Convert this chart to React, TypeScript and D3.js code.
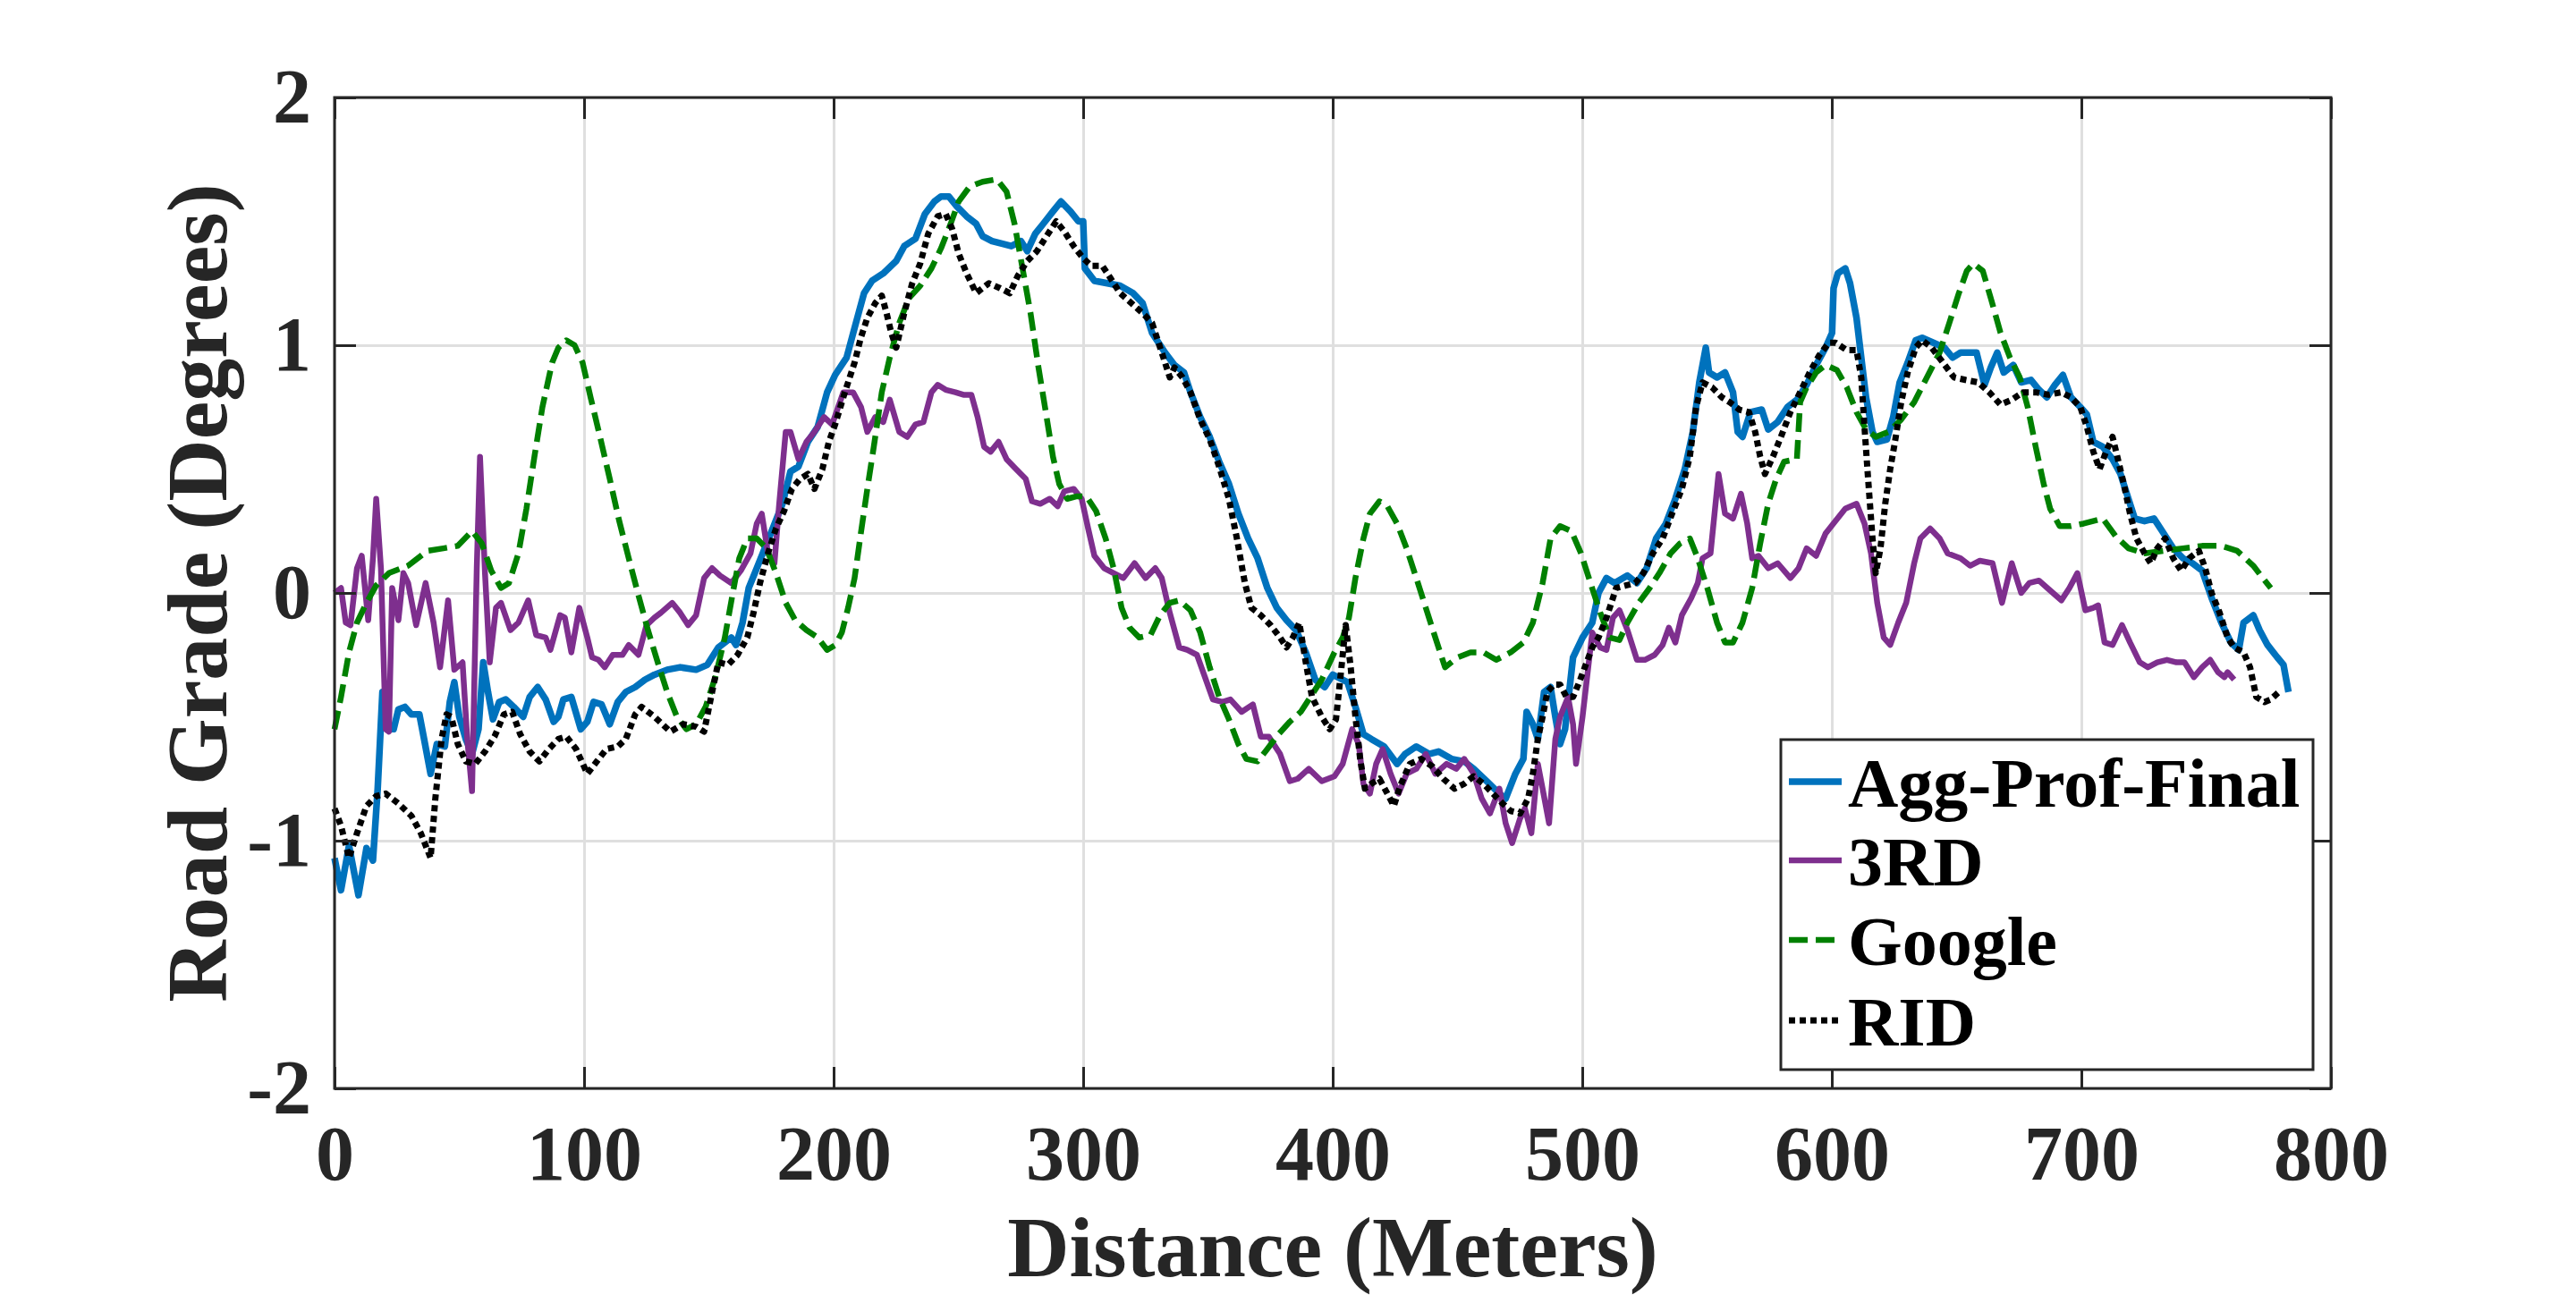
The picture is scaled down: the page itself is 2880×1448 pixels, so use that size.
import * as d3 from 'd3'
import { useEffect, useRef } from 'react'

type Pt = [number, number]

// distance (m), road grade (deg)
const xTicks = [0, 100, 200, 300, 400, 500, 600, 700, 800]
const yTicks = [-2, -1, 0, 1, 2]

const aggProfFinal: Pt[] = [
  [0, -1.07], [2.6, -1.2], [5.8, -1.02], [9.6, -1.22], [12.8, -1.03], [15.4, -1.08], [17.3, -0.79],
  [19.2, -0.4], [21.2, -0.55], [23.7, -0.55], [25.6, -0.47], [28.2, -0.46], [30.8, -0.49], [34, -0.49],
  [35.9, -0.59], [38.5, -0.73], [41, -0.61], [44.2, -0.62], [46.2, -0.44], [48, -0.36], [50, -0.5],
  [52.6, -0.59], [55.1, -0.65], [57.7, -0.55], [59.6, -0.28], [61.5, -0.4], [63.5, -0.51], [66, -0.44],
  [68.6, -0.43], [71.8, -0.46], [75.6, -0.5], [78.2, -0.42], [81.4, -0.38], [84.6, -0.43], [87.8, -0.52],
  [89.7, -0.5], [91.7, -0.43], [94.9, -0.42], [98.7, -0.55], [101.3, -0.52], [103.8, -0.44], [107, -0.45],
  [110.3, -0.53], [113.5, -0.44], [116.7, -0.4], [120.5, -0.38], [124.4, -0.35], [128.2, -0.33],
  [133.3, -0.31], [138.5, -0.3], [144.9, -0.31], [149.4, -0.29], [153.8, -0.22], [159, -0.18],
  [160.9, -0.21], [163.5, -0.12], [166, 0.02], [169.2, 0.1], [172.4, 0.18], [175.6, 0.26], [179.5, 0.36],
  [182.7, 0.49], [185.9, 0.51], [189.7, 0.61], [193.6, 0.67], [197.4, 0.81], [200.6, 0.88], [205.2, 0.95],
  [208.4, 1.07], [212.2, 1.21], [215.4, 1.26], [219.9, 1.29], [225.1, 1.34], [228.3, 1.4], [232.8, 1.43],
  [236.6, 1.53], [240.4, 1.58], [243, 1.6], [246.2, 1.6], [249.4, 1.56], [253.3, 1.52], [257.1, 1.49],
  [259.7, 1.44], [263.5, 1.42], [267.4, 1.41], [271.2, 1.4], [275.1, 1.42], [277.6, 1.38], [280.8, 1.45],
  [284, 1.49], [287.9, 1.54], [291.1, 1.58], [294.9, 1.54], [298.1, 1.5], [300, 1.5], [300.7, 1.31],
  [304.5, 1.26], [309.7, 1.25], [314.8, 1.24], [320, 1.21], [323.8, 1.17], [327.6, 1.05], [332.8, 0.97],
  [336.6, 0.92], [340.4, 0.89], [343, 0.81], [346.9, 0.71], [350.7, 0.63], [354.5, 0.53], [358.4, 0.44],
  [362.2, 0.32], [366.1, 0.22], [369.9, 0.14], [373.8, 0.02], [377.6, -0.06], [381.5, -0.11],
  [385.3, -0.15], [389.2, -0.24], [393, -0.35], [396.8, -0.38], [400, -0.33], [402, -0.34], [405.9, -0.36],
  [409.1, -0.46], [412.3, -0.57], [415.5, -0.59], [420.6, -0.62], [425.8, -0.69], [429, -0.65],
  [433.5, -0.62], [438.6, -0.65], [442.4, -0.64], [447.6, -0.67], [452.7, -0.68], [456.5, -0.71],
  [461.7, -0.76], [466.8, -0.81], [469.3, -0.83], [473.2, -0.73], [476.4, -0.67], [477.7, -0.48],
  [480.2, -0.53], [482.2, -0.59], [484.7, -0.4], [487.3, -0.38], [489.2, -0.5], [491.1, -0.61],
  [493.1, -0.55], [496.3, -0.26], [500.1, -0.18], [504, -0.12], [506.5, 0], [509.7, 0.06], [512.9, 0.04],
  [518.1, 0.07], [521.9, 0.04], [525.8, 0.1], [529.6, 0.22], [533.5, 0.28], [537.3, 0.38], [541.1, 0.5],
  [544.3, 0.65], [546.9, 0.85], [549.5, 0.99], [550.8, 0.89], [554, 0.87], [557.2, 0.89], [560.4, 0.81],
  [562.3, 0.65], [564.2, 0.63], [567.4, 0.73], [571.9, 0.74], [574.5, 0.66], [578.3, 0.69], [582.2, 0.75],
  [586, 0.78], [589.9, 0.84], [593.7, 0.92], [597.5, 0.99], [600.1, 1.05], [600.7, 1.23], [602.4, 1.29],
  [605.4, 1.31], [607.3, 1.25], [609.9, 1.11], [611.8, 0.95], [613.7, 0.79], [616.3, 0.65], [618.2, 0.61],
  [622.1, 0.62], [624.6, 0.71], [627.2, 0.85], [630.4, 0.93], [633.6, 1.02], [636.2, 1.03], [640.7, 1.01],
  [645.1, 0.99], [648.4, 0.95], [651.6, 0.97], [654.8, 0.97], [658, 0.97], [661.2, 0.84], [663.7, 0.91],
  [666.3, 0.97], [668.9, 0.89], [672.7, 0.92], [675.9, 0.85], [679.8, 0.86], [683, 0.82], [686.2, 0.79],
  [689.4, 0.84], [692.6, 0.88], [695.8, 0.79], [699.6, 0.75], [702.2, 0.72], [704.8, 0.61], [708.6, 0.59],
  [712.5, 0.54], [715.7, 0.48], [718.2, 0.4], [721.4, 0.3], [725.3, 0.29], [729.1, 0.3], [733, 0.24],
  [736.8, 0.18], [740.7, 0.14], [744.5, 0.12], [748.4, 0.09], [752.2, -0.02], [756.1, -0.12],
  [759.9, -0.2], [763.1, -0.23], [765, -0.12], [768.9, -0.09], [771.4, -0.15], [774.6, -0.21],
  [778.5, -0.26], [781, -0.29], [783, -0.4],
]

const thirdRD: Pt[] = [
  [0, 0], [2.6, 0.02], [4.5, -0.12], [6.4, -0.13], [9, 0.1], [10.9, 0.15], [13.5, -0.11], [15.4, 0.14],
  [16.7, 0.38], [18.6, 0.1], [20.5, -0.55], [21.8, -0.56], [23.1, 0.02], [25.6, -0.11], [27.6, 0.08],
  [29.5, 0.04], [32.7, -0.13], [36.5, 0.04], [39.7, -0.12], [42.3, -0.3], [45.5, -0.03], [48, -0.31],
  [51.3, -0.28], [53.2, -0.59], [55.1, -0.8], [57, 0.1], [58.3, 0.55], [60.3, 0.08], [62.2, -0.28],
  [64.7, -0.06], [66.7, -0.04], [70.5, -0.15], [73.7, -0.12], [77.6, -0.03], [80.8, -0.17], [84.6, -0.18],
  [86.5, -0.23], [90.4, -0.09], [92.3, -0.1], [94.9, -0.24], [98.1, -0.06], [101.3, -0.18], [103.2, -0.26],
  [105.8, -0.27], [108.3, -0.3], [111.5, -0.25], [115.4, -0.25], [117.9, -0.21], [121.8, -0.25],
  [125, -0.13], [128.2, -0.1], [130.8, -0.08], [135.3, -0.04], [138.5, -0.08], [141.7, -0.13],
  [144.9, -0.09], [148.1, 0.06], [151.3, 0.1], [154.5, 0.07], [159, 0.04], [162.8, 0.09], [166.7, 0.16],
  [169.2, 0.28], [171.2, 0.32], [173.7, 0.16], [176.3, 0.12], [178.2, 0.36], [180.8, 0.65], [182.7, 0.65],
  [185.9, 0.54], [189.1, 0.61], [192.3, 0.65], [196.2, 0.71], [199.4, 0.68], [203.9, 0.81], [207.8, 0.81],
  [211, 0.75], [213.5, 0.65], [216.7, 0.71], [219.9, 0.69], [222.5, 0.78], [226.3, 0.65], [229.5, 0.63],
  [232.8, 0.68], [236, 0.69], [239.2, 0.81], [241.7, 0.84], [244.9, 0.82], [248.8, 0.81], [252, 0.8],
  [255.2, 0.8], [257.7, 0.71], [260.3, 0.59], [262.9, 0.57], [266.1, 0.61], [269.3, 0.54], [273.1, 0.5],
  [277, 0.46], [279.5, 0.37], [282.8, 0.36], [286.6, 0.38], [289.8, 0.35], [292.4, 0.41], [296.2, 0.42],
  [299.4, 0.38], [302, 0.26], [304.5, 0.15], [308.4, 0.1], [312.2, 0.08], [316.1, 0.06], [320.6, 0.12],
  [325, 0.06], [328.9, 0.1], [331.5, 0.06], [334.7, -0.08], [338.5, -0.22], [341.7, -0.23], [345.6, -0.25],
  [348.8, -0.34], [352, -0.43], [355.8, -0.44], [359, -0.43], [363.5, -0.48], [368, -0.45], [371.2, -0.58],
  [374.4, -0.58], [378.9, -0.65], [382.8, -0.76], [386, -0.75], [390.4, -0.71], [395.6, -0.76],
  [400.7, -0.74], [404, -0.69], [407.8, -0.55], [410.4, -0.61], [412.3, -0.77], [414.9, -0.81],
  [417.4, -0.69], [420, -0.63], [423.2, -0.73], [426.4, -0.81], [429.6, -0.73], [433.5, -0.71],
  [437.3, -0.65], [441.1, -0.73], [445.6, -0.69], [449.5, -0.71], [452.7, -0.67], [456.5, -0.73],
  [459.7, -0.83], [463, -0.89], [466.8, -0.79], [469.3, -0.93], [471.9, -1.01], [475.1, -0.91],
  [477, -0.87], [479.6, -0.97], [482.2, -0.69], [484.1, -0.79], [486.7, -0.93], [489.2, -0.59],
  [491.1, -0.5], [494.3, -0.42], [496.3, -0.53], [497.5, -0.69], [500.1, -0.5], [504, -0.16],
  [507.2, -0.22], [509.7, -0.23], [512.3, -0.1], [514.9, -0.07], [518.1, -0.15], [521.9, -0.27],
  [525.1, -0.27], [529, -0.25], [532.2, -0.21], [534.7, -0.14], [537.3, -0.2], [539.9, -0.09],
  [543.7, -0.02], [546.3, 0.04], [548.2, 0.14], [551.4, 0.16], [554.6, 0.48], [557.2, 0.32], [560.4, 0.3],
  [563.6, 0.4], [566.1, 0.28], [568.1, 0.14], [570.6, 0.15], [574.5, 0.1], [578.3, 0.12], [583.4, 0.06],
  [586.7, 0.1], [589.9, 0.18], [593.7, 0.15], [597.5, 0.24], [601.4, 0.29], [605.4, 0.34], [609.9, 0.36],
  [613.1, 0.28], [615.7, 0.16], [618.2, -0.04], [620.8, -0.18], [623.4, -0.21], [626.6, -0.12],
  [629.8, -0.04], [633, 0.12], [635.5, 0.22], [639.4, 0.26], [643.2, 0.22], [646.4, 0.16], [651.6, 0.14],
  [655.4, 0.11], [659.3, 0.13], [664.4, 0.12], [668.2, -0.04], [672.1, 0.12], [675.9, 0], [679.1, 0.04],
  [683, 0.05], [687.5, 0.01], [692, -0.03], [695.2, 0.02], [698.4, 0.08], [701.6, -0.07], [704.8, -0.06],
  [706.7, -0.05], [709.3, -0.2], [712.5, -0.21], [716.3, -0.13], [719.5, -0.2], [723.4, -0.28],
  [726.6, -0.3], [730.4, -0.28], [734.3, -0.27], [738.1, -0.28], [741.3, -0.28], [745.1, -0.34],
  [748.4, -0.3], [751.6, -0.27], [754.8, -0.32], [757.3, -0.34], [758.6, -0.32], [761.2, -0.35],
]

const google: Pt[] = [
  [0, -0.55], [2.6, -0.42], [5.8, -0.24], [9, -0.12], [12.8, -0.04], [16.7, 0.03], [21.8, 0.08],
  [29.5, 0.11], [37.2, 0.17], [43.6, 0.18], [49.4, 0.19], [55.1, 0.25], [59, 0.2], [62.8, 0.09],
  [66.7, 0.02], [69.9, 0.04], [73.7, 0.16], [76.9, 0.34], [80.1, 0.55], [83.3, 0.75], [87.2, 0.93],
  [89.7, 0.99], [92.9, 1.02], [96.2, 1], [99.4, 0.93], [102.6, 0.79], [106.4, 0.63], [110.3, 0.46],
  [114.1, 0.29], [117.9, 0.14], [121.8, -0.01], [125.6, -0.15], [129.5, -0.28], [133.3, -0.4],
  [137.2, -0.5], [141, -0.55], [144.9, -0.53], [148.7, -0.46], [152.6, -0.34], [156.4, -0.18], [159.6, 0],
  [162.2, 0.14], [165.4, 0.22], [169.2, 0.22], [173.1, 0.18], [176.9, 0.08], [180.8, -0.04],
  [184.6, -0.11], [189.1, -0.15], [193.6, -0.18], [197.4, -0.23], [200.7, -0.21], [203.3, -0.16],
  [205.8, -0.06], [208.4, 0.06], [210.9, 0.24], [213.5, 0.42], [216.1, 0.59], [219.3, 0.81], [222.5, 0.95],
  [226.3, 1.09], [230.2, 1.19], [234.7, 1.24], [239.2, 1.31], [243, 1.39], [246.9, 1.49], [250.1, 1.58],
  [254.5, 1.64], [259.7, 1.66], [265.4, 1.67], [269.3, 1.62], [272.5, 1.49], [275.7, 1.31], [278.9, 1.13],
  [282.1, 0.91], [284.7, 0.75], [287.9, 0.55], [290.4, 0.44], [293.6, 0.38], [297.5, 0.39], [301.3, 0.39],
  [305.2, 0.33], [309, 0.22], [312.2, 0.1], [315.4, -0.06], [318.6, -0.14], [322.5, -0.18], [327, -0.17],
  [330.8, -0.09], [334.7, -0.04], [338.5, -0.03], [343, -0.07], [346.9, -0.16], [350.7, -0.3],
  [354.5, -0.42], [358.4, -0.51], [362.2, -0.61], [365.4, -0.67], [369.9, -0.68], [373.8, -0.63],
  [378.3, -0.57], [382.8, -0.52], [387.2, -0.48], [391.7, -0.41], [395.6, -0.35], [400.7, -0.24],
  [404, -0.18], [406.5, -0.1], [409.1, 0.06], [412.3, 0.22], [414.9, 0.32], [418.7, 0.37], [421.9, 0.35],
  [425.8, 0.28], [429.6, 0.18], [433.5, 0.06], [437.3, -0.06], [441.1, -0.18], [445, -0.3], [450.1, -0.26],
  [455.2, -0.24], [460.4, -0.24], [465.5, -0.27], [471.3, -0.24], [476.4, -0.2], [480.2, -0.12],
  [484.1, 0.04], [487.3, 0.22], [491.1, 0.27], [495.6, 0.25], [499.5, 0.16], [503.3, 0.04], [507.2, -0.08],
  [511, -0.18], [514.9, -0.19], [518.1, -0.12], [522.6, -0.04], [527, 0.02], [530.9, 0.08], [535.4, 0.16],
  [539.2, 0.2], [543.1, 0.22], [546.3, 0.14], [550.1, 0.02], [554, -0.12], [557.2, -0.2], [560.4, -0.2],
  [564.2, -0.12], [568.1, 0.02], [571.3, 0.2], [574.5, 0.36], [577.7, 0.46], [580.9, 0.53], [586, 0.54],
  [587.3, 0.77], [589.9, 0.83], [593.7, 0.89], [597.5, 0.92], [602, 0.9], [606, 0.83], [609.9, 0.73],
  [613.7, 0.66], [617.6, 0.63], [622.7, 0.65], [627.8, 0.7], [633, 0.77], [638.1, 0.87], [643.2, 0.97],
  [647.1, 1.09], [650.9, 1.21], [654.1, 1.3], [656.7, 1.33], [660.5, 1.3], [663.7, 1.19], [667.6, 1.05],
  [671.4, 0.95], [675.3, 0.87], [678.5, 0.75], [681.7, 0.59], [684.9, 0.44], [687.5, 0.34], [691.3, 0.27],
  [695.8, 0.27], [700.9, 0.28], [708.6, 0.3], [713.7, 0.23], [718.9, 0.18], [725.3, 0.16], [733, 0.17],
  [740.7, 0.18], [748.4, 0.19], [756.1, 0.19], [762.4, 0.17], [768.9, 0.11], [772.7, 0.06], [775.9, 0.02],
]

const rid: Pt[] = [
  [0, -0.87], [2.6, -0.94], [5.8, -1.07], [9, -0.97], [12.8, -0.86], [16.7, -0.82], [20.5, -0.81],
  [25.6, -0.85], [30.8, -0.9], [34.6, -0.97], [38.5, -1.07], [40.4, -0.83], [42.9, -0.59], [44.9, -0.49],
  [46.8, -0.5], [49.4, -0.61], [52.6, -0.68], [56.4, -0.69], [60.3, -0.64], [64.1, -0.58], [67.9, -0.49],
  [71.2, -0.48], [74.4, -0.57], [78.2, -0.64], [82.1, -0.68], [85.9, -0.63], [89.7, -0.59], [92.9, -0.58],
  [96.8, -0.63], [101.3, -0.73], [105.1, -0.68], [109, -0.63], [113.5, -0.62], [116.7, -0.59],
  [120.5, -0.49], [123.1, -0.46], [128.2, -0.5], [134.6, -0.56], [139.7, -0.53], [144.9, -0.54],
  [148.1, -0.56], [151.3, -0.4], [153.8, -0.28], [157.7, -0.29], [161.5, -0.25], [165.4, -0.18],
  [167.9, -0.08], [170.5, 0.04], [173.7, 0.16], [176.9, 0.26], [180.1, 0.33], [183.3, 0.42], [186.5, 0.46],
  [189.7, 0.48], [192.3, 0.42], [195.5, 0.5], [198.1, 0.61], [200.6, 0.68], [204.5, 0.81], [208.4, 0.93],
  [210.9, 1.03], [213.5, 1.11], [216.7, 1.17], [219.3, 1.2], [221.2, 1.13], [223.1, 1.05], [225.1, 0.99],
  [228.3, 1.13], [231.5, 1.25], [234.7, 1.33], [237.9, 1.45], [241.7, 1.52], [244.9, 1.53], [247.5, 1.47],
  [250.1, 1.37], [253.3, 1.29], [257.1, 1.21], [262.2, 1.25], [266.7, 1.23], [270.6, 1.21], [273.8, 1.28],
  [277.6, 1.34], [281.5, 1.38], [285.3, 1.44], [289.2, 1.5], [292.4, 1.46], [296.2, 1.4], [300.1, 1.35],
  [303.3, 1.32], [307.7, 1.32], [311, 1.27], [314.8, 1.21], [319.3, 1.17], [323.8, 1.13], [327.6, 1.09],
  [330.2, 1.01], [332.8, 0.93], [334.7, 0.87], [336.6, 0.91], [339.8, 0.87], [343, 0.81], [346.9, 0.7],
  [350.7, 0.62], [354.5, 0.51], [358.4, 0.38], [361.6, 0.22], [364.8, 0.04], [367.4, -0.06],
  [371.2, -0.09], [375.1, -0.13], [378.9, -0.18], [381.5, -0.22], [384, -0.18], [386.6, -0.12],
  [389.2, -0.28], [391.7, -0.42], [395.6, -0.5], [398.8, -0.55], [401.3, -0.51], [403.3, -0.32],
  [405.2, -0.13], [407.2, -0.3], [409.1, -0.5], [411, -0.67], [412.9, -0.79], [415.5, -0.77],
  [418.7, -0.75], [421.9, -0.81], [424.5, -0.86], [427, -0.78], [430.9, -0.69], [435.4, -0.67],
  [439.9, -0.7], [444.3, -0.75], [448.8, -0.79], [452.7, -0.77], [456.5, -0.74], [460.4, -0.77],
  [464.2, -0.81], [468.1, -0.85], [471.3, -0.88], [475.1, -0.89], [478.3, -0.83], [480.2, -0.73],
  [482.2, -0.59], [484.1, -0.5], [486, -0.4], [488.6, -0.37], [491.1, -0.37], [493.7, -0.42],
  [496.3, -0.42], [498.8, -0.36], [501.4, -0.29], [504, -0.22], [506.5, -0.18], [509.7, -0.1],
  [513.6, 0.02], [517.4, 0.03], [521.3, 0.04], [524.5, 0.08], [528.3, 0.16], [532.2, 0.22], [536, 0.32],
  [539.9, 0.42], [543.1, 0.55], [545.6, 0.75], [548.2, 0.85], [552, 0.83], [555.9, 0.79], [559.1, 0.77],
  [562.9, 0.74], [566.8, 0.73], [569.3, 0.65], [571.3, 0.55], [573.2, 0.48], [576.4, 0.55], [579.6, 0.63],
  [583.4, 0.73], [587.3, 0.81], [591.1, 0.89], [595, 0.96], [598.8, 1.01], [601.5, 1.01], [606, 0.98],
  [609.9, 0.98], [611.8, 0.87], [613.1, 0.67], [614.4, 0.48], [616.3, 0.22], [617.6, 0.08], [619.5, 0.18],
  [621.4, 0.36], [623.4, 0.5], [625.3, 0.61], [627.8, 0.77], [630.4, 0.89], [633.6, 0.99], [636.2, 1.02],
  [640, 0.99], [644.5, 0.93], [649, 0.87], [653.5, 0.86], [658.6, 0.85], [663.1, 0.81], [667.6, 0.76],
  [672.1, 0.78], [676.6, 0.81], [681.7, 0.81], [686.8, 0.8], [691.9, 0.81], [695.8, 0.79], [699.6, 0.75],
  [702.2, 0.67], [704.8, 0.57], [707.3, 0.5], [709.9, 0.57], [712.5, 0.63], [714.4, 0.55], [717, 0.44],
  [719.5, 0.32], [722.1, 0.22], [725.3, 0.16], [727.8, 0.12], [730.4, 0.18], [733.6, 0.22], [736.8, 0.14],
  [740, 0.09], [743.2, 0.14], [747.1, 0.17], [749.6, 0.1], [752.2, 0], [755.4, -0.08], [758.6, -0.18],
  [761.2, -0.22], [765, -0.24], [767.6, -0.3], [770.1, -0.42], [773.4, -0.44], [775.9, -0.43],
  [779.1, -0.4],
]

const seriesNames = ['Agg-Prof-Final', '3RD', 'Google', 'RID']
const seriesData = [aggProfFinal, thirdRD, google, rid]
const seriesColors = ['#0072BD', '#7E2F8E', '#008000', '#000000']
const seriesDash = ['none', 'none', '21 9', '7 5']
const seriesWidth = [7.5, 6.5, 6.5, 7]

const W = 2880
const H = 1448
const margin = { top: 109, right: 274, bottom: 231, left: 374 }
const innerW = W - margin.left - margin.right
const innerH = H - margin.top - margin.bottom
const font = "'Liberation Serif', 'Times New Roman', serif"
const axisColor = '#262626'

export default function App() {
  const gridRef = useRef<SVGGElement>(null)
  const axesRef = useRef<SVGGElement>(null)

  const x = d3.scaleLinear().domain([0, 800]).range([0, innerW])
  const y = d3.scaleLinear().domain([-2, 2]).range([innerH, 0])

  const line = d3
    .line<Pt>()
    .x((d) => x(d[0]))
    .y((d) => y(d[1]))
    .curve(d3.curveLinear)

  useEffect(() => {
    if (gridRef.current) {
      const g = d3.select(gridRef.current)
      g.selectAll('*').remove()
      g.append('g')
        .attr('transform', `translate(0, ${innerH})`)
        .call(d3.axisBottom(x).tickValues(xTicks).tickSize(-innerH).tickFormat(() => ''))
      g.append('g')
        .call(d3.axisLeft(y).tickValues(yTicks).tickSize(-innerW).tickFormat(() => ''))
      g.selectAll('.domain').remove()
      g.selectAll('line').attr('stroke', '#dfdfdf').attr('stroke-width', 3)
    }

    if (axesRef.current) {
      const g = d3.select(axesRef.current)
      g.selectAll('*').remove()
      const bottom = g
        .append('g')
        .attr('transform', `translate(0, ${innerH})`)
        .call(
          d3.axisBottom(x).tickValues(xTicks).tickSize(-24).tickPadding(41).tickFormat((d) => String(d)),
        )
      const left = g
        .append('g')
        .call(d3.axisLeft(y).tickValues(yTicks).tickSize(-24).tickPadding(26).tickFormat((d) => String(d)))
      g.append('g').call(d3.axisTop(x).tickValues(xTicks).tickSize(-24).tickFormat(() => ''))
      g.append('g')
        .attr('transform', `translate(${innerW}, 0)`)
        .call(d3.axisRight(y).tickValues(yTicks).tickSize(-24).tickFormat(() => ''))
      g.selectAll('.domain').remove()
      g.selectAll('line').attr('stroke', axisColor).attr('stroke-width', 3)
      ;[bottom, left].forEach((a) =>
        a
          .attr('font-family', font)
          .attr('font-size', 86)
          .attr('font-weight', 'bold')
          .selectAll('text')
          .attr('fill', axisColor),
      )
    }
  }, [])

  const legendX = 1991
  const legendY = 827
  const rowBase = [902, 990, 1079, 1169]

  return (
    <svg
      width={W}
      height={H}
      style={{ position: 'absolute', left: 0, top: 0, background: '#fff' }}
    >
      <rect width={W} height={H} fill="#fff" />
      <g transform={`translate(${margin.left}, ${margin.top})`}>
        <g ref={gridRef} />
        {seriesData.map((data, i) => (
          <path
            key={seriesNames[i]}
            d={line(data) || ''}
            fill="none"
            stroke={seriesColors[i]}
            strokeWidth={seriesWidth[i]}
            strokeDasharray={seriesDash[i]}
            strokeLinejoin="round"
          />
        ))}
        <rect width={innerW} height={innerH} fill="none" stroke={axisColor} strokeWidth={3} />
        <g ref={axesRef} />
      </g>
      <text
        x={margin.left + innerW / 2}
        y={1427}
        textAnchor="middle"
        fontFamily={font}
        fontWeight="bold"
        fontSize={96}
        fill={axisColor}
      >
        Distance (Meters)
      </text>
      <text
        transform={`translate(253, ${margin.top + innerH / 2}) rotate(-90)`}
        textAnchor="middle"
        fontFamily={font}
        fontWeight="bold"
        fontSize={96}
        fill={axisColor}
      >
        Road Grade (Degrees)
      </text>
      <g>
        <rect
          x={legendX}
          y={legendY}
          width={595}
          height={369}
          fill="#fff"
          stroke={axisColor}
          strokeWidth={3}
        />
        {seriesNames.map((name, i) => (
          <g key={name}>
            <line
              x1={legendX + 9}
              x2={legendX + 68}
              y1={rowBase[i] - 28}
              y2={rowBase[i] - 28}
              stroke={seriesColors[i]}
              strokeWidth={seriesWidth[i]}
              strokeDasharray={seriesDash[i]}
            />
            <text
              x={legendX + 75}
              y={rowBase[i]}
              fontFamily={font}
              fontWeight="bold"
              fontSize={78}
              fill="#000"
            >
              {name}
            </text>
          </g>
        ))}
      </g>
    </svg>
  )
}
